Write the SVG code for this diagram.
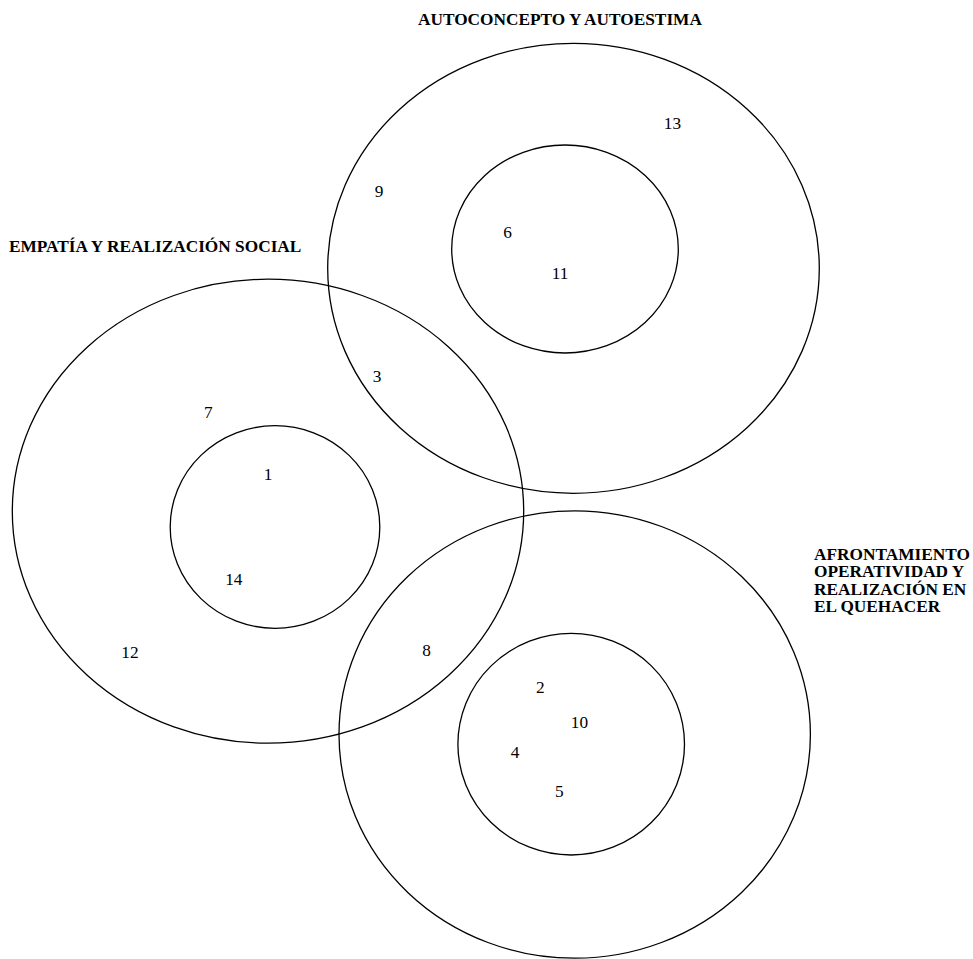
<svg xmlns="http://www.w3.org/2000/svg" width="973" height="959" viewBox="0 0 973 959">
  <style>
    .ring { fill: none; stroke: #000; stroke-width: 1.3; }
    .title { font-family: "Liberation Serif", "Times New Roman", serif; font-size: 17.3px; font-weight: bold; fill: #000; }
    .num { font-family: "Liberation Serif", "Times New Roman", serif; font-size: 17.3px; fill: #000; text-anchor: middle; }
  </style>
  <rect width="973" height="959" fill="#fff"/>

  <g id="autoconcepto">
    <ellipse class="ring" cx="573.5" cy="268.3" rx="245.8" ry="225"/>
    <ellipse class="ring" cx="565" cy="249" rx="113.3" ry="104"/>
    <text class="title" x="418" y="25">AUTOCONCEPTO Y AUTOESTIMA</text>
  </g>

  <g id="empatia">
    <ellipse class="ring" cx="268" cy="511.2" rx="255.7" ry="232"/>
    <ellipse class="ring" cx="275" cy="527" rx="104.8" ry="101.3"/>
    <text class="title" x="9" y="251.7">EMPATÍA Y REALIZACIÓN SOCIAL</text>
  </g>

  <g id="afrontamiento">
    <ellipse class="ring" cx="574.7" cy="734.5" rx="235.7" ry="223.7"/>
    <ellipse class="ring" cx="571.2" cy="744.2" rx="113.3" ry="110.8"/>
    <text class="title" x="814" y="559.5">AFRONTAMIENTO</text>
    <text class="title" x="814" y="577">OPERATIVIDAD Y</text>
    <text class="title" x="814" y="594.5">REALIZACIÓN EN</text>
    <text class="title" x="814" y="612">EL QUEHACER</text>
  </g>

  <g id="items">
    <text class="num" x="379" y="197.3">9</text>
    <text class="num" x="507.5" y="238.3">6</text>
    <text class="num" x="560" y="279.3">11</text>
    <text class="num" x="672.5" y="129.3">13</text>
    <text class="num" x="377" y="381.7">3</text>
    <text class="num" x="208.3" y="417.7">7</text>
    <text class="num" x="268" y="480">1</text>
    <text class="num" x="233.8" y="585">14</text>
    <text class="num" x="130" y="658.3">12</text>
    <text class="num" x="426.6" y="655.7">8</text>
    <text class="num" x="540.2" y="693.3">2</text>
    <text class="num" x="579.5" y="727.7">10</text>
    <text class="num" x="515" y="758.3">4</text>
    <text class="num" x="559.3" y="796.7">5</text>
  </g>
</svg>
